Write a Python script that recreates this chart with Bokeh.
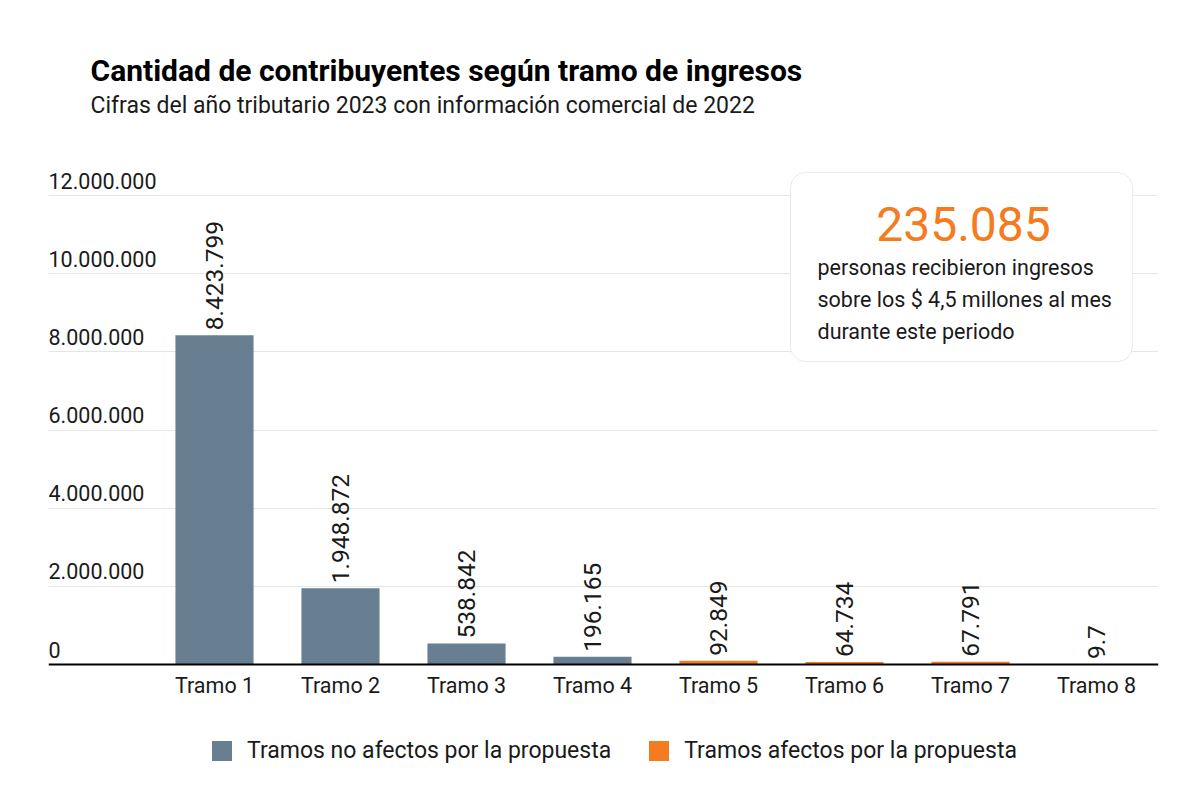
from bokeh.plotting import figure
from bokeh.models import (ColumnDataSource, FixedTicker, Legend, LegendItem,
                          BoxAnnotation, Label, Range1d, Span)
from bokeh.core.properties import value
from bokeh.embed import file_html
from bokeh.resources import INLINE

FONT = "Roboto"
TXT = "#1a1a1a"

# ---------------- data ----------------
categories = ["Tramo 1", "Tramo 2", "Tramo 3", "Tramo 4",
              "Tramo 5", "Tramo 6", "Tramo 7", "Tramo 8"]
values = [8423799, 1948872, 538842, 196165, 92849, 64734, 67791, 9700]
value_labels = ["8.423.799", "1.948.872", "538.842", "196.165",
                "92.849", "64.734", "67.791", "9.7"]
affected = [False, False, False, False, True, True, True, True]
series_names = ["Tramos no afectos por la propuesta", "Tramos afectos por la propuesta"]
series_colors = ["#687F92", "#F47B20"]
y_ticks = [0, 2000000, 4000000, 6000000, 8000000, 10000000, 12000000]
y_tick_labels = ["0", "2.000.000", "4.000.000", "6.000.000",
                 "8.000.000", "10.000.000", "12.000.000"]
title_text = "Cantidad de contribuyentes según tramo de ingresos"
subtitle_text = "Cifras del año tributario 2023 con información comercial de 2022"
highlight_value = "235.085"
highlight_lines = ["personas recibieron ingresos",
                   "sobre los $ 4,5 millones al mes",
                   "durante este periodo"]

# ---------------- layout helpers (image pixel -> data) ----------------
PX_PER_M = (664 - 195) / 12.0          # pixels per million
STEP = 126.0                            # pixels between categories
X0 = 214.0                              # x of first category


def xd(px):
    return (px - X0) / STEP


def yd(py):
    return (664 - py) / PX_PER_M * 1e6


W, H = 1184, 784
p = figure(width=W, height=H, output_backend="svg", toolbar_location=None,
           x_range=Range1d(xd(48), xd(1158)), y_range=Range1d(yd(H), yd(0)),
           x_axis_location=None, y_axis_location=None,
           min_border_left=48, min_border_right=W - 1158, min_border_top=0,
           min_border_bottom=0, background_fill_color="white",
           border_fill_color="white", outline_line_color=None)

# grid
p.xgrid.visible = False
p.ygrid.ticker = FixedTicker(ticks=y_ticks[1:])
p.ygrid.grid_line_color = "#e6e6e6"
p.ygrid.grid_line_width = 1

# titles
p.add_layout(Label(x=xd(90), y=yd(70), text=title_text, text_align="left",
                   text_baseline="middle", text_font=FONT, text_font_size="30px",
                   text_font_style="bold", text_color="#000000"))
p.add_layout(Label(x=xd(90), y=yd(105), text=subtitle_text, text_align="left",
                   text_baseline="middle", text_font=FONT, text_font_size="23px",
                   text_color=TXT))

# y tick labels
p.text(x=[xd(48)] * len(y_ticks), y=y_ticks, text=y_tick_labels,
       text_font=value(FONT), text_font_size="21.5px", text_color=TXT,
       text_align="left", text_baseline="middle", y_offset=-15)

# bars
xs = list(range(len(categories)))
renderers = []
for flag, name, col in zip([False, True], series_names, series_colors):
    idx = [i for i in xs if affected[i] == flag]
    src = ColumnDataSource(dict(x=[xs[i] for i in idx], top=[values[i] for i in idx]))
    r = p.vbar(x="x", top="top", width=0.62, source=src, fill_color=col,
               line_color=None)
    renderers.append((name, r))

# value labels (rotated)
p.text(x=xs, y=values, text=value_labels, angle=1.5708,
       text_font=value(FONT), text_font_size="24.5px", text_color=TXT,
       text_align="left", text_baseline="middle", y_offset=-5)

# x axis line and category labels
p.add_layout(Span(location=0, dimension="width", line_color="#000000", line_width=2))
p.text(x=xs, y=[0] * len(xs), text=categories, text_font=value(FONT),
       text_font_size="21.5px", text_color=TXT, text_align="center",
       text_baseline="middle", y_offset=21)

# legend
legend = Legend(items=[LegendItem(label=n, renderers=[r]) for n, r in renderers],
                orientation="horizontal", location=(161, 20),
                label_text_font=FONT, label_text_font_size="23px",
                label_text_color=TXT, glyph_width=25, glyph_height=25,
                label_standoff=13, spacing=35, border_line_color=None,
                background_fill_alpha=0, margin=0, padding=0)
p.add_layout(legend)

# highlight box
box = BoxAnnotation(left=xd(790), right=xd(1132), top=yd(172), bottom=yd(361),
                    fill_color="white", fill_alpha=1.0, line_color="#bdbdbd",
                    line_width=1, border_radius=15)
p.add_layout(box)
p.add_layout(Label(x=xd(963), y=yd(223), text=highlight_value, text_align="center",
                   text_baseline="middle", text_font=FONT, text_font_size="48px",
                   text_color="#F47B20"))
for line, py in zip(highlight_lines, [267, 299, 331]):
    p.add_layout(Label(x=xd(817), y=yd(py), text=line, text_align="left",
                       text_baseline="middle", text_font=FONT,
                       text_font_size="21.5px", text_color=TXT))

open("out.html", "w").write(file_html(p, INLINE))
